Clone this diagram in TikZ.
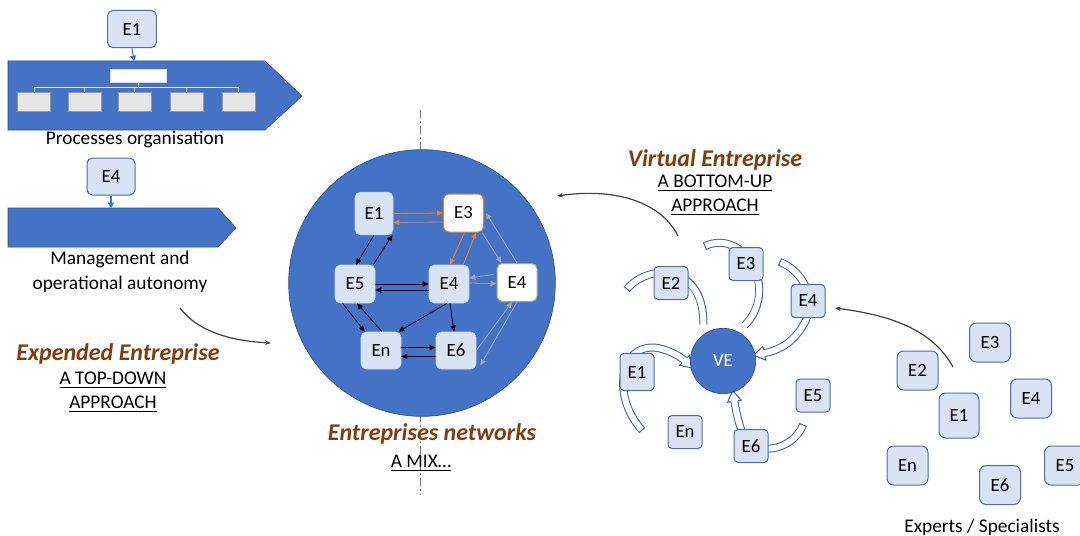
\documentclass[tikz,border=0pt]{standalone}
\usepackage{fontspec}
\setmainfont{Carlito}
\usetikzlibrary{arrows.meta,calc,decorations.markings}
\definecolor{boxfill}{HTML}{DAE3F3}
\definecolor{boxline}{HTML}{4A6DAB}
\definecolor{accent}{HTML}{4472C4}
\definecolor{darkblue}{HTML}{2F528F}
\definecolor{titlebrown}{HTML}{843C0C}
\definecolor{orangeA}{HTML}{ED7D31}
\definecolor{greyA}{HTML}{A5A5A5}
\definecolor{bandc}{HTML}{3B63AA}
\definecolor{orgfill}{HTML}{E7E6E6}
\newcommand\hollowarr[1]{%
  \draw[line width=6pt, color=bandc, shorten >=7pt] #1;
  \draw[line width=4.5pt, white, shorten >=6.5pt] #1;
  \path[decoration={markings,
      mark=at position 0 with {\draw[bandc, line width=0.75pt] (0,-3pt) -- (0,3pt);},
      mark=at position 1 with {\fill[white] (-7.2pt,-5.2pt) -- (1pt,0pt) -- (-7.2pt,5.2pt) -- cycle;
        \draw[bandc, line width=0.75pt, line join=miter]
        (-7pt,2.6pt) -- (-7pt,5.2pt) -- (1pt,0pt) -- (-7pt,-5.2pt) -- (-7pt,-2.6pt);}},
    decorate] #1;
}
\begin{document}
\begin{tikzpicture}[x=0.75pt,y=-0.75pt,
  txt/.style={font=\fontsize{14.5}{18.75}\selectfont, inner sep=0pt, align=center},
  btitle/.style={font=\fontsize{18}{22}\selectfont\bfseries\itshape, text=titlebrown, inner sep=0pt},
  ebox/.style={draw=boxline, fill=boxfill, rounded corners=4pt, line width=0.75pt,
    font=\fontsize{14}{16}\selectfont, inner sep=0pt},
  leftbox/.style={ebox, minimum width=36.5pt, minimum height=28pt},
  netbox/.style={ebox, draw=boxfill!85!accent, line width=0.5pt, minimum width=30pt, minimum height=28.5pt},
  vebox/.style={ebox, minimum width=25.5pt, minimum height=24.75pt, rounded corners=3pt},
  expbox/.style={ebox, minimum width=30.75pt, minimum height=29.25pt, rounded corners=5pt},
  orgtop/.style={fill=white, draw=white!85!black, line width=0.4pt, minimum width=42pt, minimum height=9.75pt, inner sep=0pt},
  orgbox/.style={fill=orgfill, draw=white!60!black, line width=0.4pt, minimum width=24.75pt, minimum height=14.25pt, inner sep=0pt},
  orgline/.style={draw=white!85!accent, line width=0.6pt},
  smallarr/.style={draw=accent, line width=0.8pt, -{Triangle[length=4pt,width=4.5pt]}},
  thinarr/.style={draw=black!75, line width=0.9pt, -{Stealth[length=4.5pt,width=3.5pt]}},
  blk/.style={draw=black, line width=0.6pt, -{Triangle[length=4.5pt,width=4pt]}},
  org/.style={draw=orangeA, line width=0.6pt, -{Triangle[length=4.5pt,width=4pt]}},
  gry/.style={draw=greyA, line width=0.6pt, -{Triangle[length=4.5pt,width=4pt]}},
]
\useasboundingbox (0,0) rectangle (1080,535);

% ---------------- left part ----------------
\draw[fill=accent, draw=darkblue, line width=0.5pt] (8,61) -- (265,61) -- (302,96) -- (265,130) -- (8,130) -- cycle;
\draw[fill=accent, draw=darkblue, line width=0.5pt] (8,208) -- (218,208) -- (236,228) -- (218,247) -- (8,247) -- cycle;

\node[orgtop] (ot) at (138,75.5) {};
\foreach \i/\x in {1/34,2/84.5,3/134.5,4/186.5,5/238.5}
  \node[orgbox] (ob\i) at (\x,101.5) {};
\coordinate (obar) at (138,87);
\draw[orgline] (ot.south) -- (ot.south |- obar);
\draw[orgline] (ob1.north |- obar) -- (ob5.north |- obar);
\foreach \i in {1,...,5}
  \draw[orgline] (ob\i.north |- obar) -- (ob\i.north);

\node[leftbox] (L1) at (132,29) {E1};
\coordinate (p1top) at (134,61);
\draw[smallarr] (L1.south) -- (p1top);
\node[txt] (tproc) at (135,139) {Processes organisation};

\node[leftbox, minimum width=36pt, minimum height=27.75pt] (L4) at (111,176.5) {E4};
\coordinate (p2top) at (111,208);
\draw[smallarr] (L4.south) -- (p2top);
\node[txt] (tman) at (120,271.5) {Management and\\operational autonomy};

\coordinate (c1s) at (180,308);
\coordinate (c1e) at (271,343);
\draw[thinarr] (c1s) .. controls (198,332) and (232,341) .. (c1e);

\node[btitle] (texp) at (118,354) {Expended Entreprise};
\node[txt] (ttop) at (113,380) {\underline{A TOP-DOWN}};
\node[txt] (tappl) at (113,404) {\underline{APPROACH}};

% ---------------- centre ----------------
\draw[draw=black!55, line width=0.6pt, dash pattern=on 6pt off 2pt on 2pt off 2pt] (420,110) -- (420,495);
\node[circle, fill=accent, draw=darkblue, line width=0.5pt, minimum size=200pt, inner sep=0pt] (net) at (422,283) {};

\node[netbox, minimum width=28.5pt, minimum height=32pt] (n1) at (374,213.5) {E1};
\node[netbox, fill=white, draw=orangeA, line width=0.75pt] (n3) at (463.5,213) {E3};
\node[netbox] (n5) at (355,284) {E5};
\node[netbox] (n4) at (449,284) {E4};
\node[netbox, fill=white, draw=greyA, line width=0.75pt] (n4w) at (517,282.5) {E4};
\node[netbox, minimum height=27.75pt] (nn) at (381,350.5) {En};
\node[netbox, minimum height=27.75pt] (n6) at (456,350.5) {E6};

\draw[org] (n1.east) -- (n3.west);
\draw[org] ($(n3.west)+(0,9)$) -- ($(n1.east)+(0,9)$);
\draw[blk] (n5.east) -- (n4.west);
\draw[blk] ($(n4.west)+(0,6)$) -- ($(n5.east)+(0,6)$);
\draw[blk] ($(nn.east)+(0,-3)$) -- ($(n6.west)+(0,-3)$);
\draw[blk] ($(n6.west)+(0,6)$) -- ($(nn.east)+(0,6)$);
\draw[gry] ($(n4w.west)+(-3,-8)$) -- ($(n4.east)+(0,-6)$);
\draw[gry] ($(n4.east)+(0,-1)$) -- ($(n4w.west)+(0,1)$);
\draw[blk] (n1.south) -- ($(n5.north)+(1,0)$);
\draw[blk] ($(n5.north east)+(-2,0)$) -- ($(n1.south east)+(-1,0)$);
\draw[org] ($(n3.south)+(1,0)$) -- ($(n4.north)+(1,0)$);
\draw[org] ($(n4.north east)+(-6,0)$) -- ($(n3.south east)+(-8,0)$);
\draw[gry] ($(n3.south east)+(-2,0)$) -- ($(n4w.north west)+(5,0)$);
\draw[gry] (n4w.north) -- ($(n3.east)+(2,0)$);
\draw[blk] ($(n5.south west)+(8,0)$) -- ($(nn.north west)+(4,0)$);
\draw[blk] ($(nn.north)+(1,0)$) -- ($(n5.south)+(2,0)$);
\draw[blk] ($(n4.south)+(-2,0)$) -- ($(nn.north east)+(-3,0)$);
\draw[blk] ($(n4.south)+(1,0)$) -- ($(n6.north)+(-2,0)$);
\draw[gry] (n6.east) -- ($(n4w.south)+(-5,0)$);
\draw[gry] (n4w.south) -- ($(n6.south east)+(4,-4)$);

\node[btitle] (tnet) at (432,434) {Entreprises networks};
\node[txt] (tmix) at (421,463) {\underline{A MIX…}};

% ---------------- right part ----------------
\node[btitle] (tvirt) at (715,160) {Virtual Entreprise};
\node[txt] (tbot) at (715,183) {\underline{A BOTTOM-UP}};
\node[txt] (tapr) at (715,207) {\underline{APPROACH}};
\coordinate (c2s) at (678,236);
\coordinate (c2e) at (557,196);
\draw[thinarr] (c2s) .. controls (660,200) and (612,188) .. (c2e);

\hollowarr{(627,289) .. controls (650,262) and (705,265) .. (703,334)}
\hollowarr{(705,246) .. controls (745,228) and (780,290) .. (738,332)}
\hollowarr{(780,262) .. controls (805,272) and (815,300) .. (806,320) .. controls (795,342) and (780,350) .. (755,355)}
\hollowarr{(642,430) .. controls (612,398) and (618,342) .. (658,348) .. controls (672,351) and (682,358) .. (691,367)}
\hollowarr{(803,425) .. controls (792,452) and (752,458) .. (742,432) .. controls (737,418) and (735,405) .. (733,392)}

\node[circle, fill=accent, draw=darkblue, line width=0.5pt, minimum size=49pt, inner sep=0pt,
  font=\fontsize{14}{16}\selectfont, text=white] (ve) at (723,361) {VE};

\node[vebox] (v2) at (671,283) {E2};
\node[vebox] (v3) at (746,264) {E3};
\node[vebox] (v4) at (808,301) {E4};
\node[vebox, minimum height=28pt] (v1) at (637,372) {E1};
\node[vebox] (vn) at (685,432) {En};
\node[vebox] (v5) at (813,395.5) {E5};
\node[vebox] (v6) at (751,446) {E6};

% ---------------- experts ----------------
\node[expbox] (x3) at (990,342.5) {E3};
\node[expbox] (x2) at (917.5,370.5) {E2};
\node[expbox] (x4) at (1031,398.5) {E4};
\node[expbox, minimum width=30pt, minimum height=33.75pt] (x1) at (959,415.5) {E1};
\node[expbox] (xn) at (907.5,465.5) {En};
\node[expbox] (x5) at (1065,465.5) {E5};
\node[expbox] (x6) at (1000,485) {E6};
\node[txt] (texps) at (982,527) {Experts / Specialists};

\coordinate (c3s) at (953,367);
\coordinate (c3e) at (835,308);
\draw[thinarr] (c3s) .. controls (930,325) and (880,314) .. (c3e);
\end{tikzpicture}
\end{document}
